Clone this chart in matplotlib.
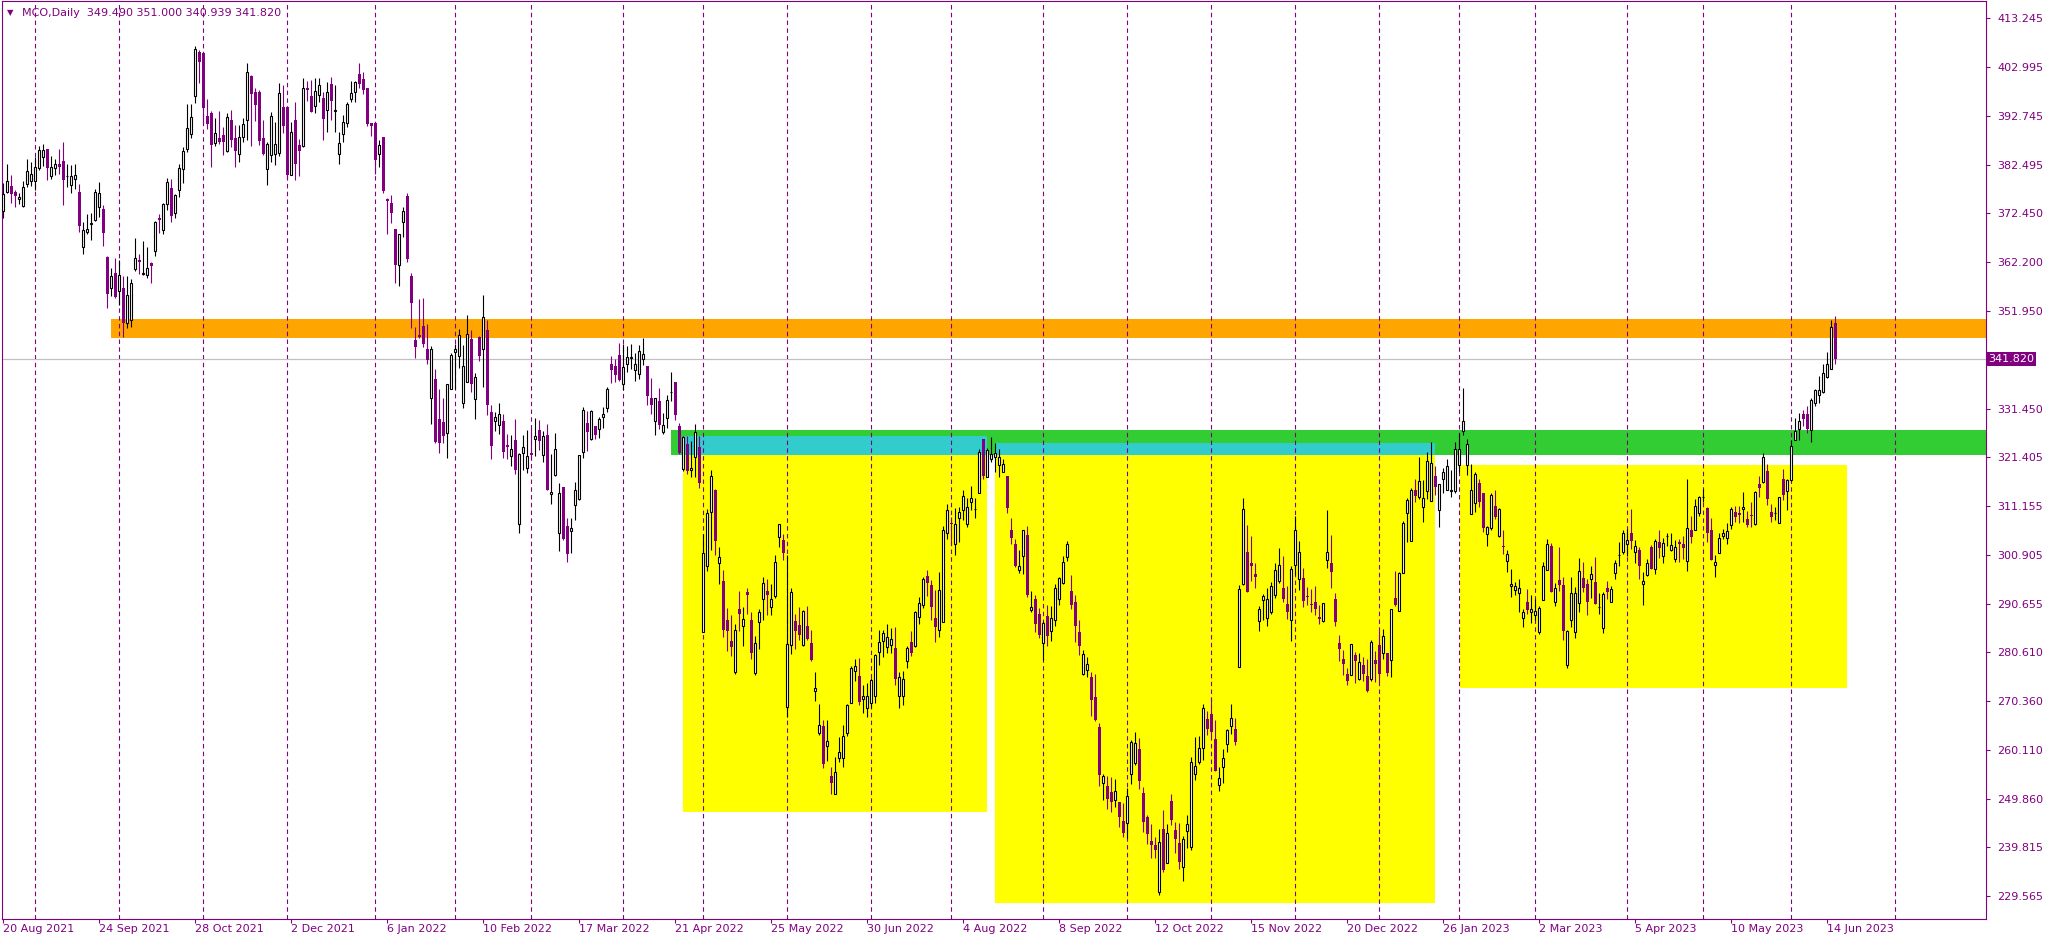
import matplotlib
matplotlib.use("Agg")
import matplotlib.pyplot as plt
import matplotlib.transforms as mtransforms
from matplotlib.patches import Rectangle

# MCO daily candles, 20 Aug 2021 .. 16 Jun 2023
opens = [
    372.9, 376.9, 378.2, 376.8, 375.3, 374.0, 378.5, 379.1, 379.2, 381.8,
    384.2, 385.8, 380.1, 381.9, 382.6, 383.3, 380.1, 378.4, 379.5, 376.8,
    365.3, 368.5, 370.2, 370.9, 373.6, 373.3, 363.2, 356.8, 360.0, 356.2,
    356.8, 349.5, 350.0, 360.7, 362.6, 359.6, 359.4, 362.0, 364.6, 371.4,
    368.8, 374.3, 377.6, 372.4, 377.2, 381.6, 385.8, 388.9, 397.0, 406.1,
    405.9, 392.7, 393.4, 387.0, 388.1, 388.7, 385.4, 392.0, 388.1, 384.7,
    388.3, 392.0, 401.1, 397.8, 397.8, 388.1, 381.6, 384.5, 384.7, 385.0,
    394.6, 394.6, 380.3, 392.0, 386.6, 386.4, 398.7, 396.9, 394.8, 397.1,
    396.6, 393.9, 399.4, 393.8, 384.7, 389.0, 391.2, 396.4, 397.8, 401.5,
    400.4, 398.6, 391.3, 391.3, 384.7, 388.3, 375.4, 374.5, 369.0, 361.5,
    370.5, 376.0, 359.2, 345.8, 347.0, 348.8, 343.9, 333.7, 337.7, 329.4,
    328.7, 326.4, 335.6, 343.3, 342.6, 332.8, 337.0, 346.1, 333.6, 346.5,
    343.9, 347.9, 330.8, 329.0, 328.0, 328.9, 323.9, 321.6, 325.0, 307.3,
    322.3, 319.2, 322.2, 325.1, 327.0, 321.8, 326.1, 313.6, 317.6, 305.4,
    315.1, 306.9, 306.0, 311.3, 312.7, 322.5, 328.5, 325.1, 327.8, 327.2,
    329.8, 331.6, 340.9, 340.5, 342.7, 336.7, 340.9, 342.2, 339.5, 338.7,
    342.0, 340.4, 333.7, 328.9, 333.1, 326.6, 329.6, 334.9, 337.1, 327.8,
    318.8, 324.2, 318.6, 321.3, 323.4, 284.7, 298.5, 310.0, 314.5, 299.3,
    295.4, 287.4, 282.9, 276.5, 289.7, 286.0, 293.2, 287.4, 276.3, 286.8,
    291.8, 293.3, 290.0, 292.4, 304.6, 304.0, 269.2, 282.1, 287.1, 286.2,
    282.0, 286.1, 282.4, 272.5, 263.7, 265.1, 260.9, 254.7, 251.0, 258.5,
    258.4, 263.7, 270.0, 276.6, 275.6, 270.7, 268.8, 269.9, 271.3, 280.7,
    283.0, 281.7, 282.0, 281.5, 271.3, 271.3, 278.8, 282.6, 281.8, 287.9,
    290.4, 296.5, 294.6, 287.7, 285.3, 286.8, 305.4, 307.5, 303.1, 308.7,
    310.3, 307.3, 311.9, 310.5, 313.8, 325.1, 317.3, 320.9, 321.3, 319.7,
    318.2, 317.4, 306.1, 303.2, 297.8, 300.6, 305.0, 289.3, 291.7, 288.5,
    282.4, 288.1, 284.9, 287.2, 291.6, 295.0, 300.5, 293.3, 291.1, 284.8,
    276.1, 276.8, 275.4, 271.2, 264.9, 253.1, 252.6, 251.3, 249.6, 249.2,
    245.3, 244.8, 255.0, 257.4, 260.3, 251.1, 246.0, 241.1, 240.2, 230.3,
    243.6, 236.5, 249.4, 243.4, 240.6, 235.7, 243.2, 239.9, 255.0, 257.5,
    260.5, 266.5, 267.6, 262.4, 252.7, 256.6, 261.3, 265.2, 264.6, 277.4,
    294.9, 301.5, 299.2, 296.9, 287.0, 291.4, 287.7, 289.0, 292.5, 295.5,
    294.0, 290.7, 287.2, 298.8, 295.8, 296.1, 292.3, 290.7, 291.1, 287.9,
    287.1, 299.8, 299.2, 291.7, 282.4, 279.2, 276.0, 275.9, 280.0, 274.9,
    277.8, 275.6, 274.9, 278.9, 282.1, 280.3, 280.4, 278.9, 291.9, 289.1,
    297.2, 309.6, 303.8, 314.5, 313.1, 310.9, 314.2, 312.3, 317.5, 310.3,
    316.7, 314.5, 314.2, 314.2, 319.7, 326.9, 319.7, 309.4, 311.7, 316.0,
    313.8, 305.2, 306.6, 311.2, 304.8, 302.8, 299.6, 294.4, 293.6, 292.9,
    287.7, 291.0, 289.0, 288.3, 284.7, 291.4, 297.8, 302.7, 291.1, 295.7,
    294.6, 277.9, 287.2, 284.7, 290.8, 296.1, 294.8, 295.8, 295.2, 290.0,
    285.6, 294.1, 291.1, 297.1, 300.8, 301.5, 303.1, 305.4, 301.5, 301.9,
    294.8, 296.8, 302.6, 297.9, 303.6, 300.6, 304.9, 302.0, 300.1, 303.6,
    303.2, 299.6, 306.1, 306.2, 309.6, 313.0, 310.7, 306.1, 298.9, 301.3,
    304.9, 304.5, 307.1, 309.8, 309.6, 310.5, 308.4, 309.3, 307.3, 315.7,
    316.1, 318.5, 309.9, 309.6, 307.5, 316.7, 314.2, 316.5, 324.9, 327.3,
    330.5, 330.3, 327.0, 332.6, 334.4, 334.9, 338.1, 339.9, 349.49,
]
highs = [
    378.7, 382.7, 380.4, 377.3, 376.6, 379.1, 383.7, 383.1, 384.1, 386.4,
    386.8, 385.8, 384.4, 383.7, 385.8, 387.3, 382.6, 382.5, 382.6, 378.5,
    370.6, 372.3, 372.4, 377.5, 378.9, 374.2, 363.5, 360.9, 363.0, 362.6,
    359.2, 359.3, 358.6, 367.2, 363.9, 366.6, 365.4, 362.3, 370.8, 372.3,
    374.6, 379.8, 379.5, 376.4, 382.7, 386.3, 395.3, 395.3, 407.4, 406.5,
    406.1, 396.2, 393.7, 392.3, 393.8, 390.4, 393.3, 394.1, 390.8, 390.8,
    392.4, 403.8, 401.3, 398.5, 398.2, 391.9, 387.3, 393.6, 391.5, 399.7,
    399.2, 394.7, 391.5, 395.7, 387.9, 400.7, 400.1, 400.3, 400.6, 400.6,
    397.8, 399.8, 400.8, 399.2, 389.3, 393.0, 395.6, 400.0, 400.0, 403.8,
    401.9, 398.6, 391.3, 391.3, 387.7, 388.3, 375.5, 376.2, 369.0, 368.0,
    373.7, 376.6, 359.9, 348.6, 354.5, 354.7, 349.2, 344.6, 339.8, 335.6,
    333.7, 336.6, 343.2, 345.1, 348.2, 344.9, 351.1, 347.9, 338.9, 346.8,
    355.3, 350.1, 332.3, 330.8, 332.8, 330.4, 326.2, 326.1, 329.4, 322.2,
    326.1, 327.0, 327.4, 329.6, 329.2, 326.8, 328.4, 322.1, 326.4, 315.9,
    315.1, 308.6, 308.6, 316.1, 321.8, 331.8, 331.0, 331.2, 327.8, 329.7,
    331.8, 336.1, 342.6, 341.9, 345.2, 345.0, 344.7, 345.1, 343.2, 344.9,
    346.4, 340.5, 337.9, 333.8, 335.8, 330.6, 334.4, 339.1, 337.1, 328.5,
    325.8, 325.8, 324.7, 328.4, 325.8, 305.3, 310.5, 318.7, 314.7, 302.6,
    297.8, 289.8, 288.3, 286.5, 293.4, 290.0, 294.0, 289.0, 283.9, 289.5,
    296.3, 295.9, 294.8, 300.9, 307.3, 305.3, 301.0, 294.0, 288.6, 290.1,
    289.4, 290.2, 285.2, 276.4, 269.7, 266.4, 266.4, 256.6, 258.6, 262.8,
    265.3, 269.7, 277.7, 279.1, 279.3, 273.6, 274.1, 275.1, 280.1, 285.2,
    285.3, 286.5, 285.6, 285.8, 276.5, 276.7, 281.9, 285.0, 289.2, 292.1,
    296.2, 297.8, 295.7, 293.6, 297.3, 307.0, 311.5, 308.9, 310.7, 310.9,
    314.5, 312.8, 315.3, 312.8, 323.0, 325.1, 323.2, 325.5, 324.3, 323.1,
    320.9, 317.4, 308.6, 304.2, 302.0, 306.1, 307.0, 293.4, 292.5, 289.8,
    287.0, 290.4, 290.2, 294.8, 296.3, 300.7, 303.8, 296.7, 292.5, 287.2,
    281.0, 279.5, 276.4, 276.0, 265.8, 255.0, 254.7, 254.5, 254.0, 249.2,
    249.0, 252.1, 262.1, 263.9, 262.6, 252.4, 246.5, 244.6, 242.0, 243.6,
    247.6, 244.6, 250.9, 245.1, 244.8, 242.1, 246.5, 258.6, 262.9, 263.0,
    269.7, 268.2, 270.9, 266.4, 256.6, 260.3, 264.6, 269.7, 266.7, 294.6,
    312.8, 307.1, 304.9, 299.2, 290.2, 292.8, 293.9, 295.3, 299.2, 302.4,
    300.7, 294.4, 298.6, 309.0, 303.8, 298.2, 294.2, 293.7, 294.4, 290.4,
    290.9, 310.3, 305.0, 292.9, 284.2, 281.0, 277.2, 282.3, 280.6, 280.5,
    279.6, 279.2, 283.1, 280.8, 285.1, 285.5, 280.4, 289.6, 297.6, 297.4,
    308.0, 312.8, 314.9, 316.7, 321.5, 316.6, 322.5, 324.5, 319.5, 315.7,
    319.0, 320.9, 318.7, 324.5, 326.4, 335.8, 325.1, 319.9, 318.3, 316.9,
    313.9, 307.0, 313.8, 314.5, 310.7, 306.1, 301.9, 297.9, 295.3, 295.8,
    289.5, 293.8, 292.5, 291.8, 290.2, 299.4, 304.2, 303.4, 295.1, 302.6,
    296.4, 285.3, 296.3, 294.3, 300.3, 299.4, 295.8, 298.6, 300.4, 293.0,
    293.1, 295.5, 294.4, 299.9, 303.7, 306.1, 306.3, 310.5, 304.0, 302.5,
    297.4, 300.1, 302.9, 304.3, 306.1, 304.4, 305.6, 305.4, 304.0, 304.3,
    304.9, 316.8, 309.1, 312.6, 313.2, 314.8, 311.0, 308.6, 300.9, 305.6,
    306.4, 307.5, 311.0, 311.2, 311.2, 314.0, 310.1, 312.0, 314.3, 317.5,
    322.2, 319.9, 311.6, 310.9, 313.1, 318.9, 316.9, 325.0, 329.5, 330.7,
    331.2, 332.1, 333.8, 335.6, 338.3, 340.8, 343.3, 350.1, 351.0,
]
lows = [
    371.5, 376.6, 374.6, 373.6, 374.3, 373.8, 377.8, 378.2, 377.3, 381.4,
    382.3, 379.4, 379.6, 380.4, 380.7, 374.2, 377.8, 376.7, 377.5, 368.5,
    363.9, 368.1, 366.7, 370.7, 371.7, 365.6, 352.6, 355.0, 354.7, 353.1,
    346.6, 348.3, 348.5, 360.4, 359.6, 359.4, 358.9, 357.9, 363.5, 368.3,
    368.1, 373.1, 370.6, 371.5, 375.7, 378.8, 385.3, 388.2, 395.5, 399.7,
    391.0, 390.0, 382.1, 386.5, 386.9, 384.6, 385.3, 386.3, 382.1, 383.2,
    387.4, 387.8, 386.5, 391.8, 386.6, 384.5, 378.4, 383.1, 382.4, 384.4,
    389.1, 379.5, 380.3, 379.4, 380.1, 386.3, 395.9, 393.6, 393.3, 395.7,
    387.8, 389.3, 392.0, 389.3, 382.8, 387.2, 390.5, 395.7, 395.7, 398.5,
    397.3, 390.6, 388.6, 380.7, 382.1, 376.6, 368.0, 370.4, 357.7, 357.1,
    367.5, 362.3, 348.3, 342.2, 346.2, 344.5, 340.8, 328.4, 324.4, 322.3,
    324.4, 321.1, 335.6, 335.7, 340.1, 331.7, 337.0, 335.1, 329.4, 341.4,
    336.0, 330.1, 320.9, 326.9, 326.3, 321.1, 320.9, 319.5, 317.9, 305.4,
    318.6, 318.0, 320.8, 321.7, 322.9, 320.4, 314.4, 311.5, 317.5, 301.8,
    304.1, 299.4, 301.3, 308.3, 312.4, 321.1, 322.7, 325.0, 325.1, 325.3,
    327.5, 330.9, 336.8, 337.0, 337.3, 335.4, 339.1, 339.8, 337.4, 337.7,
    340.6, 332.2, 330.4, 326.0, 327.2, 326.3, 327.5, 333.1, 329.2, 322.0,
    318.5, 317.9, 317.3, 317.3, 315.0, 284.7, 297.6, 301.9, 300.8, 294.8,
    283.8, 280.9, 279.8, 276.1, 284.9, 281.9, 288.6, 279.2, 275.8, 281.3,
    287.2, 288.3, 288.4, 291.9, 302.6, 299.9, 267.0, 280.2, 281.2, 283.2,
    281.9, 283.1, 278.8, 270.4, 263.2, 256.4, 257.8, 250.8, 250.9, 257.5,
    256.6, 263.1, 269.9, 274.5, 269.6, 267.9, 267.1, 268.9, 270.0, 277.9,
    279.6, 280.5, 280.4, 273.6, 268.8, 269.6, 277.3, 279.8, 281.7, 286.5,
    289.9, 292.3, 287.4, 282.8, 283.7, 286.8, 304.2, 303.0, 300.9, 303.7,
    308.2, 306.8, 310.3, 308.7, 313.8, 316.9, 317.2, 320.4, 318.3, 317.3,
    318.2, 309.6, 303.2, 298.3, 297.1, 296.9, 292.2, 289.0, 284.7, 283.6,
    278.9, 281.9, 282.9, 286.1, 290.4, 294.9, 299.7, 289.7, 282.6, 280.0,
    275.8, 275.3, 267.2, 266.1, 252.6, 249.7, 247.8, 247.2, 248.2, 243.9,
    241.9, 241.6, 252.9, 257.0, 252.0, 243.0, 240.5, 237.6, 237.5, 229.7,
    234.5, 236.4, 244.4, 238.6, 235.3, 232.6, 239.5, 239.2, 253.8, 257.2,
    258.1, 263.3, 262.9, 255.7, 251.5, 253.1, 259.6, 263.4, 261.1, 277.4,
    294.7, 293.2, 295.5, 293.9, 285.1, 287.2, 286.1, 288.6, 292.0, 295.1,
    291.0, 287.5, 282.9, 296.7, 293.6, 290.1, 290.4, 289.0, 288.4, 286.5,
    286.9, 298.1, 294.1, 286.1, 278.8, 275.9, 273.6, 275.9, 274.2, 274.8,
    274.5, 272.3, 274.6, 274.4, 274.4, 279.1, 275.5, 275.3, 290.3, 289.1,
    297.2, 303.7, 303.8, 311.9, 312.7, 307.9, 312.7, 312.3, 313.5, 306.8,
    313.9, 314.4, 313.1, 313.8, 318.2, 326.0, 317.7, 309.4, 310.0, 311.0,
    305.8, 302.7, 306.1, 308.5, 304.7, 301.2, 297.4, 292.2, 292.5, 289.0,
    285.8, 288.5, 286.6, 287.2, 284.3, 291.4, 297.8, 293.2, 290.2, 293.3,
    283.1, 277.3, 285.8, 283.5, 289.0, 293.1, 288.3, 292.0, 290.6, 288.6,
    284.5, 291.6, 291.0, 295.8, 298.7, 301.2, 300.7, 302.2, 299.3, 295.9,
    290.4, 296.6, 297.9, 296.9, 300.2, 299.3, 302.8, 301.7, 299.4, 299.5,
    300.0, 297.6, 303.5, 306.1, 309.0, 312.0, 303.7, 299.9, 296.2, 301.3,
    304.3, 303.3, 306.3, 307.8, 307.5, 307.9, 306.8, 306.8, 307.2, 313.1,
    316.0, 311.4, 307.9, 308.2, 307.5, 312.4, 310.3, 316.3, 324.9, 325.0,
    327.8, 326.4, 324.6, 332.1, 332.6, 334.7, 337.9, 339.9, 340.939,
]
closes = [
    376.4, 379.1, 376.4, 376.1, 375.7, 377.9, 381.2, 380.7, 382.0, 385.6,
    385.6, 381.9, 382.0, 382.6, 382.1, 379.3, 380.2, 380.2, 380.4, 369.8,
    368.8, 369.2, 370.4, 376.9, 376.6, 368.3, 355.4, 359.2, 354.8, 359.5,
    349.5, 355.2, 357.9, 363.0, 362.3, 360.0, 360.9, 361.4, 370.5, 371.0,
    374.4, 378.9, 371.9, 376.2, 381.8, 385.4, 390.2, 392.5, 406.7, 404.0,
    394.5, 391.0, 386.7, 389.1, 387.2, 387.4, 392.5, 387.7, 385.4, 388.3,
    391.0, 401.9, 397.4, 395.1, 387.6, 384.7, 386.9, 392.7, 386.9, 397.5,
    390.7, 380.3, 389.4, 382.7, 385.5, 398.7, 398.2, 393.6, 398.0, 399.2,
    392.2, 397.7, 395.9, 393.9, 387.0, 391.4, 395.2, 397.5, 399.9, 399.5,
    398.2, 391.1, 390.6, 383.6, 386.6, 377.0, 374.9, 372.5, 361.6, 368.0,
    372.8, 362.8, 353.7, 344.5, 346.6, 345.1, 341.6, 344.1, 324.6, 324.4,
    325.9, 336.6, 342.7, 343.9, 346.9, 340.4, 347.1, 336.6, 338.1, 342.6,
    350.7, 332.2, 323.8, 329.8, 330.5, 322.5, 323.4, 323.0, 318.6, 322.0,
    323.5, 321.6, 321.8, 325.9, 324.8, 325.9, 314.5, 314.1, 323.0, 313.8,
    304.3, 301.1, 306.5, 314.4, 321.8, 331.2, 326.6, 331.0, 326.1, 329.4,
    330.5, 335.6, 339.5, 338.6, 337.5, 340.2, 342.4, 342.3, 340.8, 343.5,
    343.0, 334.2, 332.2, 333.7, 328.2, 328.2, 333.4, 335.0, 330.1, 322.2,
    325.5, 318.5, 319.2, 326.6, 315.9, 301.3, 309.6, 317.4, 303.9, 300.4,
    285.3, 284.9, 281.7, 285.3, 288.6, 287.6, 292.6, 280.5, 282.4, 289.0,
    295.0, 292.5, 291.8, 299.4, 307.3, 301.4, 282.2, 293.1, 284.9, 284.2,
    289.1, 283.3, 278.9, 273.1, 265.3, 257.2, 262.0, 253.3, 255.4, 259.6,
    263.0, 269.5, 277.2, 277.7, 270.2, 271.5, 271.5, 274.7, 280.0, 282.8,
    284.5, 283.8, 283.4, 275.0, 275.4, 275.0, 281.5, 280.3, 289.0, 290.8,
    295.8, 295.1, 290.1, 285.9, 293.5, 306.1, 310.3, 307.3, 307.3, 309.8,
    313.2, 310.9, 312.8, 310.5, 322.5, 317.4, 322.8, 322.1, 322.2, 321.3,
    319.9, 310.8, 304.4, 298.5, 298.7, 306.1, 292.6, 290.0, 286.5, 284.2,
    286.6, 284.0, 287.7, 294.1, 296.0, 299.4, 303.1, 290.5, 286.1, 281.9,
    280.1, 278.2, 270.6, 266.3, 254.8, 254.7, 249.8, 249.3, 251.5, 246.0,
    242.8, 250.4, 261.8, 261.6, 253.7, 245.1, 242.6, 240.3, 239.1, 240.8,
    235.0, 242.7, 245.5, 241.4, 236.7, 241.4, 244.6, 257.5, 256.7, 260.5,
    268.8, 264.6, 263.9, 255.8, 254.2, 258.5, 264.3, 266.9, 261.8, 293.7,
    310.5, 293.2, 298.5, 296.2, 289.5, 292.3, 291.8, 294.4, 297.8, 298.8,
    291.8, 289.0, 298.0, 306.1, 301.5, 291.2, 292.2, 290.5, 289.5, 287.6,
    290.9, 301.5, 297.4, 286.8, 281.3, 278.0, 274.6, 282.2, 278.8, 278.6,
    276.0, 272.5, 282.6, 278.2, 276.1, 284.0, 276.3, 289.5, 290.5, 297.1,
    307.5, 312.4, 314.5, 313.3, 316.4, 312.8, 320.5, 320.1, 315.2, 315.7,
    318.3, 319.5, 314.6, 323.0, 323.0, 328.9, 324.2, 314.4, 317.8, 311.9,
    306.6, 306.7, 313.5, 308.9, 310.5, 302.5, 301.2, 294.8, 294.5, 294.1,
    288.9, 289.4, 289.5, 289.1, 289.9, 298.5, 303.3, 293.2, 293.9, 294.6,
    284.9, 284.9, 292.9, 292.9, 297.5, 294.1, 291.1, 296.9, 290.6, 290.0,
    292.7, 293.1, 293.7, 299.2, 301.0, 305.6, 304.0, 303.8, 302.7, 298.5,
    295.4, 299.2, 298.0, 303.8, 302.3, 303.4, 304.95, 302.9, 302.5, 303.3,
    302.4, 306.5, 304.6, 311.1, 313.0, 313.05, 305.6, 299.9, 299.4, 304.4,
    305.6, 305.9, 310.5, 308.8, 309.3, 310.9, 307.2, 309.1, 314.0, 315.0,
    321.3, 312.6, 308.9, 309.6, 313.0, 313.5, 316.5, 323.7, 326.8, 328.9,
    329.4, 327.3, 333.3, 335.4, 335.4, 338.9, 340.8, 348.5, 341.82,
]
assert len(opens) == len(highs) == len(lows) == len(closes), (
    len(opens), len(highs), len(lows), len(closes))

date_labels = ["20 Aug 2021", "24 Sep 2021", "28 Oct 2021", "2 Dec 2021",
               "6 Jan 2022", "10 Feb 2022", "17 Mar 2022", "21 Apr 2022",
               "25 May 2022", "30 Jun 2022", "4 Aug 2022", "8 Sep 2022",
               "12 Oct 2022", "15 Nov 2022", "20 Dec 2022", "26 Jan 2023",
               "2 Mar 2023", "5 Apr 2023", "10 May 2023", "14 Jun 2023"]
label_bars = [24 * k for k in range(len(date_labels))]
# first trading day of each month (bar index), incl. one in the empty right margin
month_bars = [8, 29, 50, 71, 93, 113, 132, 155, 175, 196, 217, 237,
              260, 281, 302, 323, 344, 364, 383, 406, 425, 447, 473]
price_ticks = [413.245, 402.995, 392.745, 382.495, 372.450, 362.200, 351.950,
               331.450, 321.405, 311.155, 300.905, 290.655, 280.610, 270.360,
               260.110, 249.860, 239.815, 229.565]
last_price = 341.82
header = "MCO,Daily  349.490 351.000 340.939 341.820"

# zones: (first bar, last bar or None = right edge, low, high)
orange_zone = (26.9, None, 346.37, 350.28)
green_zone = (166.9, None, 321.73, 326.96)
yellow_zones = [(169.9, 245.9, 247.21, 325.70),
                (247.9, 357.9, 228.04, 324.40),
                (364.1, 460.9, 273.15, 319.73)]

PURPLE = "#800080"
W, H = 2053, 941
XMIN, XMAX = -0.325, 495.7
YMIN, YMAX = 224.75, 416.80

fig = plt.figure(figsize=(W / 100, H / 100), dpi=100)
ax = fig.add_axes([2 / W, 1 - 919 / H, 1984 / W, 918 / H])
ax.set_xlim(XMIN, XMAX)
ax.set_ylim(YMIN, YMAX)


def zone(x0, x1, lo, hi, color):
    if x1 is None:
        x1 = XMAX
    ax.add_patch(Rectangle((x0, lo), x1 - x0, hi - lo, facecolor=color,
                           edgecolor="none", zorder=0.5))


for z in yellow_zones:
    zone(*z, "#FFFF00")
zone(*green_zone, "#32CD32")
zone(*orange_zone, "#FFA500")
# where a yellow box runs into the green band the overlap shows cyan
for x0, x1, lo, hi in yellow_zones:
    top = min(hi, green_zone[3])
    bot = max(lo, green_zone[2])
    if top > bot:
        zone(x0, x1, bot, top, "#33CCCC")

for m in month_bars:
    ax.axvline(m, color=PURPLE, lw=0.8, linestyle=(0, (4, 3)), zorder=1)
ax.axhline(last_price, color="#C0C0C0", lw=0.9, zorder=1.5)

# candles
up_x, up_lo, up_h = [], [], []
dn_x, dn_lo, dn_h = [], [], []
for i, (o, h, l, c) in enumerate(zip(opens, highs, lows, closes)):
    if c >= o:
        ax.vlines(i, l, h, color="black", lw=0.8, zorder=2)
        up_x.append(i)
        up_lo.append(o)
        up_h.append(max(c - o, 0.05))
    else:
        ax.vlines(i, l, h, color=PURPLE, lw=0.8, zorder=2)
        dn_x.append(i)
        dn_lo.append(c)
        dn_h.append(max(o - c, 0.22))
ax.bar(up_x, up_h, bottom=up_lo, width=0.5, facecolor="white",
       edgecolor="black", linewidth=0.8, zorder=3)
ax.bar(dn_x, dn_h, bottom=dn_lo, width=0.75, color=PURPLE, linewidth=0,
       zorder=3)

# frame and axes
for s in ax.spines.values():
    s.set_color(PURPLE)
    s.set_linewidth(0.8)
ax.yaxis.tick_right()
ax.set_yticks(price_ticks)
ax.set_yticklabels([f"{v:.3f}" for v in price_ticks])
ax.tick_params(axis="y", direction="out", length=3, width=0.8, color=PURPLE,
               labelcolor=PURPLE, labelsize=8, pad=5)
ax.set_xticks(label_bars)
ax.set_xticklabels(date_labels)
for lbl in ax.get_xticklabels():
    lbl.set_horizontalalignment("left")
ax.tick_params(axis="x", direction="out", length=3, width=0.8, color=PURPLE,
               labelcolor=PURPLE, labelsize=8, pad=0.5)

# current price tag on the axis
trans = mtransforms.blended_transform_factory(ax.transAxes, ax.transData)
ax.text(1.0012, last_price, f"{last_price:.3f}", transform=trans, ha="left",
        va="center", color="white", fontsize=8, clip_on=False,
        bbox=dict(boxstyle="square,pad=0.18", facecolor=PURPLE,
                  edgecolor="none"))

# header
fig.text(7 / W, 1 - 13 / H, "\u25bc", color=PURPLE, fontsize=6, va="center")
fig.text(22 / W, 1 - 13 / H, header, color=PURPLE, fontsize=8, va="center")

fig.savefig("out.png", dpi=100)
